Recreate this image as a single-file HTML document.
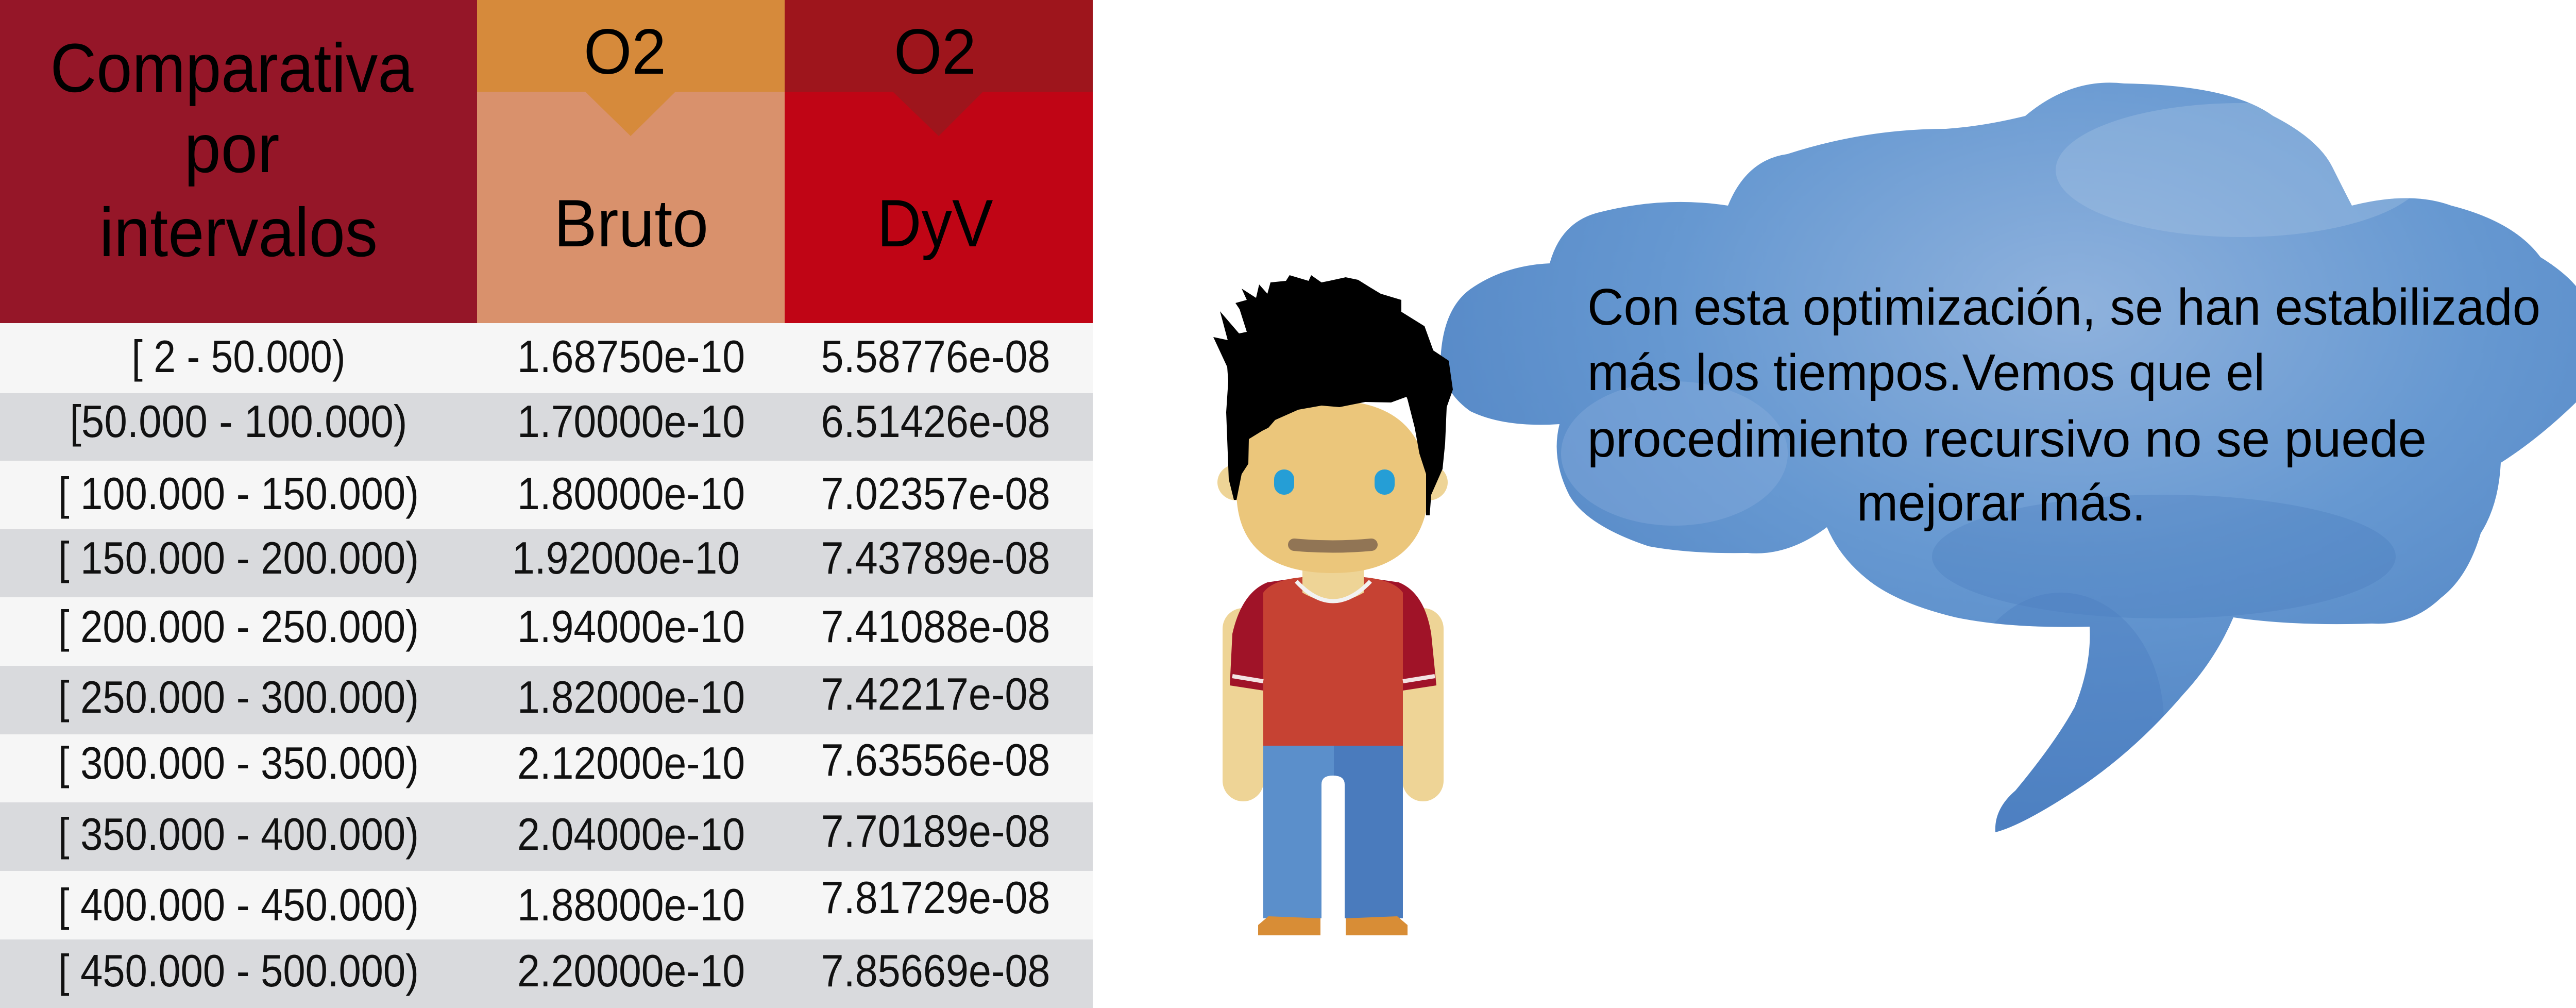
<!DOCTYPE html>
<html><head><meta charset="utf-8">
<style>
html,body{margin:0;padding:0;background:#fff;}
body{width:5214px;height:1956px;overflow:hidden;position:relative;}
svg{position:absolute;left:0;top:0;}
</style></head>
<body>
<svg width="5214" height="1956" viewBox="0 0 5214 1956" xmlns="http://www.w3.org/2000/svg">
<defs>
<radialGradient id="bg1" cx="0.55" cy="0.3" r="0.7">
<stop offset="0" stop-color="#8fb2dd"/>
<stop offset="0.5" stop-color="#6698d1"/>
<stop offset="1" stop-color="#4f82c2"/>
</radialGradient>
<clipPath id="bc"><path id="bp" d="M2796,699 Q2800,600 2854,561 Q2920,515 3008,511 Q3030,430 3104,412 Q3230,380 3354,399 Q3390,310 3469,299 Q3620,250 3777,250 Q3850,245 3931,225 Q4020,150 4123,162 Q4330,165 4412,225 Q4500,270 4527,324 Q4550,370 4565,399 Q4680,370 4758,399 Q4880,430 4931,499 Q5030,560 5027,624 Q5040,720 5008,773 Q4930,850 4854,898 Q4850,980 4815,1035 Q4790,1120 4738,1160 Q4680,1215 4604,1210 Q4450,1215 4335,1198 Q4300,1280 4238,1347 Q4150,1450 4046,1522 Q3930,1600 3873,1615 Q3870,1570 3912,1534 Q3990,1440 4027,1372 Q4060,1290 4056,1216 Q3900,1220 3796,1198 Q3680,1170 3623,1123 Q3570,1080 3546,1023 Q3470,1080 3392,1073 Q3280,1075 3200,1060 Q3080,1020 3046,961 Q3010,890 3027,823 Q2920,830 2854,798 Q2800,760 2796,699 Z"/></clipPath>
</defs>
<!-- Table header -->
<rect x="0" y="0" width="926" height="627" fill="#951628"/>
<rect x="926" y="0" width="597" height="627" fill="#d9916c"/>
<rect x="926" y="0" width="597" height="178" fill="#d68a3b"/>
<polygon points="1136,178 1311,178 1224,264" fill="#d68a3b"/>
<rect x="1523" y="0" width="598" height="627" fill="#c00515"/>
<rect x="1523" y="0" width="598" height="178" fill="#9e151c"/>
<polygon points="1733,178 1908,178 1822,264" fill="#9e151c"/>
<g font-family="Liberation Sans, sans-serif" fill="#000" text-anchor="middle">
<text x="450" y="178" font-size="134" textLength="705" lengthAdjust="spacingAndGlyphs">Comparativa</text>
<text x="450" y="334" font-size="134" textLength="185" lengthAdjust="spacingAndGlyphs">por</text>
<text x="463" y="497" font-size="134" textLength="540" lengthAdjust="spacingAndGlyphs">intervalos</text>
<text x="1213" y="143" font-size="124" textLength="160" lengthAdjust="spacingAndGlyphs">O2</text>
<text x="1815" y="143" font-size="124" textLength="160" lengthAdjust="spacingAndGlyphs">O2</text>
<text x="1225" y="478" font-size="130" textLength="300" lengthAdjust="spacingAndGlyphs">Bruto</text>
<text x="1815" y="478" font-size="130" textLength="225" lengthAdjust="spacingAndGlyphs">DyV</text>
</g>
<!-- Rows -->
<rect x="0" y="627" width="2121" height="136" fill="#f6f6f6"/>
<rect x="0" y="763" width="2121" height="131" fill="#d9dadd"/>
<rect x="0" y="894" width="2121" height="133" fill="#f6f6f6"/>
<rect x="0" y="1027" width="2121" height="132" fill="#d9dadd"/>
<rect x="0" y="1159" width="2121" height="133" fill="#f6f6f6"/>
<rect x="0" y="1292" width="2121" height="133" fill="#d9dadd"/>
<rect x="0" y="1425" width="2121" height="132" fill="#f6f6f6"/>
<rect x="0" y="1557" width="2121" height="133" fill="#d9dadd"/>
<rect x="0" y="1690" width="2121" height="133" fill="#f6f6f6"/>
<rect x="0" y="1823" width="2121" height="133" fill="#d9dadd"/>
<g font-family="Liberation Sans, sans-serif" font-size="88" fill="#111" text-anchor="middle">
<text x="463" y="722" textLength="415" lengthAdjust="spacingAndGlyphs">[ 2 - 50.000)</text>
<text x="463" y="848" textLength="655" lengthAdjust="spacingAndGlyphs">[50.000  - 100.000)</text>
<text x="463" y="988" textLength="700" lengthAdjust="spacingAndGlyphs">[ 100.000 - 150.000)</text>
<text x="463" y="1113" textLength="700" lengthAdjust="spacingAndGlyphs">[ 150.000 - 200.000)</text>
<text x="463" y="1246" textLength="700" lengthAdjust="spacingAndGlyphs">[ 200.000 - 250.000)</text>
<text x="463" y="1383" textLength="700" lengthAdjust="spacingAndGlyphs">[ 250.000 - 300.000)</text>
<text x="463" y="1511" textLength="700" lengthAdjust="spacingAndGlyphs">[ 300.000 - 350.000)</text>
<text x="463" y="1649" textLength="700" lengthAdjust="spacingAndGlyphs">[ 350.000 - 400.000)</text>
<text x="463" y="1786" textLength="700" lengthAdjust="spacingAndGlyphs">[ 400.000 - 450.000)</text>
<text x="463" y="1914" textLength="700" lengthAdjust="spacingAndGlyphs">[ 450.000 - 500.000)</text>

<text x="1225" y="722" textLength="442" lengthAdjust="spacingAndGlyphs">1.68750e-10</text>
<text x="1225" y="848" textLength="442" lengthAdjust="spacingAndGlyphs">1.70000e-10</text>
<text x="1225" y="988" textLength="442" lengthAdjust="spacingAndGlyphs">1.80000e-10</text>
<text x="1215" y="1113" textLength="442" lengthAdjust="spacingAndGlyphs">1.92000e-10</text>
<text x="1225" y="1246" textLength="442" lengthAdjust="spacingAndGlyphs">1.94000e-10</text>
<text x="1225" y="1383" textLength="442" lengthAdjust="spacingAndGlyphs">1.82000e-10</text>
<text x="1225" y="1511" textLength="442" lengthAdjust="spacingAndGlyphs">2.12000e-10</text>
<text x="1225" y="1649" textLength="442" lengthAdjust="spacingAndGlyphs">2.04000e-10</text>
<text x="1225" y="1786" textLength="442" lengthAdjust="spacingAndGlyphs">1.88000e-10</text>
<text x="1225" y="1914" textLength="442" lengthAdjust="spacingAndGlyphs">2.20000e-10</text>

<text x="1816" y="722" textLength="445" lengthAdjust="spacingAndGlyphs">5.58776e-08</text>
<text x="1816" y="848" textLength="445" lengthAdjust="spacingAndGlyphs">6.51426e-08</text>
<text x="1816" y="988" textLength="445" lengthAdjust="spacingAndGlyphs">7.02357e-08</text>
<text x="1816" y="1113" textLength="445" lengthAdjust="spacingAndGlyphs">7.43789e-08</text>
<text x="1816" y="1246" textLength="445" lengthAdjust="spacingAndGlyphs">7.41088e-08</text>
<text x="1816" y="1377" textLength="445" lengthAdjust="spacingAndGlyphs">7.42217e-08</text>
<text x="1816" y="1505" textLength="445" lengthAdjust="spacingAndGlyphs">7.63556e-08</text>
<text x="1816" y="1643" textLength="445" lengthAdjust="spacingAndGlyphs">7.70189e-08</text>
<text x="1816" y="1772" textLength="445" lengthAdjust="spacingAndGlyphs">7.81729e-08</text>
<text x="1816" y="1914" textLength="445" lengthAdjust="spacingAndGlyphs">7.85669e-08</text>
</g>

<!-- Speech bubble -->
<use href="#bp" fill="url(#bg1)"/>
<g clip-path="url(#bc)">
<ellipse cx="4350" cy="330" rx="360" ry="130" fill="#a9c5e6" opacity="0.35"/>
<ellipse cx="3250" cy="880" rx="220" ry="140" fill="#8fb3df" opacity="0.35"/>
<ellipse cx="4200" cy="1080" rx="450" ry="120" fill="#3f74b8" opacity="0.25"/>
<ellipse cx="4000" cy="1400" rx="200" ry="250" fill="#4a7ec0" opacity="0.4"/>
</g>
<g font-family="Liberation Sans, sans-serif" font-size="100" fill="#000">
<text x="3081" y="630" textLength="1850" lengthAdjust="spacingAndGlyphs">Con esta optimización, se han estabilizado</text>
<text x="3081" y="757" textLength="1315" lengthAdjust="spacingAndGlyphs">más los tiempos.Vemos que el</text>
<text x="3081" y="886" textLength="1629" lengthAdjust="spacingAndGlyphs">procedimiento recursivo no se puede</text>
<text x="3604" y="1010" textLength="561" lengthAdjust="spacingAndGlyphs">mejorar más.</text>
</g>

<!-- Character -->
<rect x="2373" y="1180" width="80" height="375" rx="40" fill="#eed496"/>
<rect x="2722" y="1180" width="80" height="375" rx="40" fill="#eed496"/>
<path d="M2392,1230 Q2410,1150 2460,1130 L2528,1120 L2647,1120 L2715,1130 Q2765,1150 2778,1230 L2788,1330 L2723,1340 L2723,1447 L2452,1447 L2452,1340 L2387,1330 Z" fill="#a01328"/>
<path d="M2452,1150 Q2470,1125 2528,1120 L2647,1120 Q2705,1125 2723,1150 L2723,1447 L2452,1447 Z" fill="#c64233"/>
<path d="M2392,1312 L2452,1322 M2723,1322 L2785,1312" stroke="#f3e3e3" stroke-width="8"/>
<rect x="2452" y="1447" width="137" height="335" fill="#5b8fcb"/>
<rect x="2589" y="1447" width="134" height="335" fill="#4a7bbd"/>
<path d="M2565,1782 L2565,1522 Q2565,1505 2587,1505 Q2610,1505 2610,1522 L2610,1782 Z" fill="#fff"/>
<path d="M2442,1795 L2462,1778 L2563,1782 L2563,1815 L2442,1815 Z" fill="#d88d36"/>
<path d="M2612,1782 L2712,1778 L2732,1795 L2732,1815 L2612,1815 Z" fill="#d88d36"/>
<path d="M2528,1100 L2647,1100 L2647,1150 Q2587,1185 2528,1150 Z" fill="#eed496"/>
<path d="M2516,1128 Q2587,1205 2660,1128" fill="none" stroke="#f2f2f2" stroke-width="8"/>
<ellipse cx="2400" cy="936" rx="37" ry="35" fill="#eed496"/>
<ellipse cx="2773" cy="936" rx="37" ry="35" fill="#eed496"/>
<path d="M2400,940 Q2400,780 2587,777 Q2773,780 2773,960 Q2760,1112 2587,1112 Q2405,1112 2400,960 Z" fill="#ebc67b"/>
<path d="M2355,654 L2383,660 L2368,604 L2405,647 L2420,644 L2406,600 L2398,588 L2420,582 L2410,560 L2438,578 L2444,552 L2460,570 L2466,548 L2496,545 L2503,534 L2540,545 L2545,534 L2565,548 L2580,545 L2612,538 L2636,543 L2660,558 L2680,570 L2720,582 L2720,605 L2765,633 L2782,680 L2812,700 L2820,756 L2808,790 L2805,860 L2800,910 L2778,960 L2775,1000 L2768,1000 L2768,920 L2755,880 L2746,830 L2732,775 L2730,770 L2700,781 L2650,780 L2600,790 L2565,787 L2520,795 L2475,815 L2462,830 L2450,836 L2424,852 L2423,900 L2410,920 L2400,970 L2395,970 L2385,930 L2380,800 L2384,740 L2382,712 Z" fill="#000"/>
<rect x="2473" y="911" width="39" height="49" rx="19" fill="#259ed6"/>
<rect x="2668" y="911" width="39" height="49" rx="19" fill="#259ed6"/>
<path d="M2512,1057 Q2587,1064 2662,1057" fill="none" stroke="#917555" stroke-width="24" stroke-linecap="round"/>
</svg>
</body></html>
